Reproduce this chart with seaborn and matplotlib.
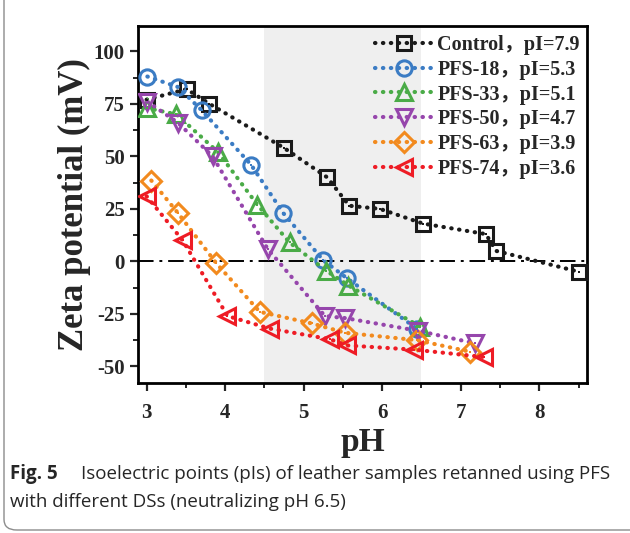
import matplotlib
matplotlib.use('Agg')
import matplotlib.pyplot as plt
from matplotlib.patches import FancyBboxPatch
from matplotlib.ticker import MultipleLocator
import pandas as pd
import seaborn as sns

# data
ctrl_ph = [3.0, 3.51, 3.80, 4.75, 5.30, 5.58, 5.97, 6.52, 7.32, 7.45, 8.51]
ctrl_zeta = [77, 82, 75, 54, 40, 26.5, 25, 18, 13, 5, -5]
pfs18_ph = [3.01, 3.40, 3.70, 4.33, 4.74, 5.25, 5.55, 6.44]
pfs18_zeta = [88, 83, 72, 46, 23, 0.5, -8, -32]
pfs33_ph = [3.0, 3.38, 3.91, 4.41, 4.82, 5.29, 5.57, 6.48]
pfs33_zeta = [73, 70, 52, 27, 9, -4.5, -11.5, -31]
pfs50_ph = [3.01, 3.40, 3.84, 4.54, 5.27, 5.53, 6.45, 7.18]
pfs50_zeta = [76, 66, 50, 6, -26, -27, -33, -39]
pfs63_ph = [3.06, 3.40, 3.89, 4.44, 5.10, 5.53, 6.44, 7.12]
pfs63_zeta = [38.5, 23, -1, -24, -29.5, -34, -37.5, -43]
pfs74_ph = [3.0, 3.46, 4.03, 4.57, 5.33, 5.55, 6.40, 7.29]
pfs74_zeta = [31, 10, -26, -32, -37, -40, -42, -45.5]

labels = ['Control，pI=7.9', 'PFS-18，pI=5.3', 'PFS-33，pI=5.1',
          'PFS-50，pI=4.7', 'PFS-63，pI=3.9', 'PFS-74，pI=3.6']
colors = ['#1a1a1a', '#3b7cc4', '#4aab47', '#9646ac', '#f28a1e', '#ee1c25']
markers = ['s', 'o', '^', 'v', 'D', '<']
msizes = [10, 11, 12, 12, 10, 12]

series = [(ctrl_ph, ctrl_zeta), (pfs18_ph, pfs18_zeta), (pfs33_ph, pfs33_zeta),
          (pfs50_ph, pfs50_zeta), (pfs63_ph, pfs63_zeta), (pfs74_ph, pfs74_zeta)]

sns.set_style('ticks')
serif = ['Liberation Serif', 'Noto Sans CJK SC']
plt.rcParams['font.family'] = serif
plt.rcParams['axes.unicode_minus'] = False

fig = plt.figure(figsize=(6.3, 5.33), dpi=100)
ax = fig.add_axes([0.219, 0.281, 0.713, 0.670])

# shaded pH window
ax.axvspan(4.5, 6.5, color='#efefef', zorder=0, lw=0)
ax.axhline(0, color='black', lw=1.4, ls=(0, (8, 3, 1.5, 3)), zorder=1)

for (x, y), lab, c, m, ms in zip(series, labels, colors, markers, msizes):
    df = pd.DataFrame({'pH': x, 'zeta': y})
    sns.lineplot(data=df, x='pH', y='zeta', ax=ax, color=c, label=lab,
                 marker=m, markersize=ms, mfc='none', mec=c, mew=2.2,
                 lw=3, ls=(0, (0.1, 1.8)), dash_capstyle='round',
                 sort=False, zorder=3)
    sns.scatterplot(data=df, x='pH', y='zeta', ax=ax, color=c, marker='s',
                    s=4, lw=0, zorder=4)

ax.set_xlim(2.89, 8.61)
ax.set_ylim(-58, 112)
ax.xaxis.set_major_locator(MultipleLocator(1))
ax.xaxis.set_minor_locator(MultipleLocator(0.5))
ax.yaxis.set_major_locator(MultipleLocator(25))
ax.yaxis.set_minor_locator(MultipleLocator(12.5))
ax.tick_params(which='major', direction='out', length=6, width=1.6,
               labelsize=15)
ax.tick_params(axis='x', which='major', pad=8)
ax.tick_params(which='minor', direction='out', length=3.5, width=1.4)
for lbl in ax.get_xticklabels() + ax.get_yticklabels():
    lbl.set_fontweight('bold')
for sp in ax.spines.values():
    sp.set_linewidth(2.0)
    sp.set_color('black')

ax.set_xlabel('pH', fontsize=24, fontweight='bold', labelpad=3)
ax.set_ylabel('Zeta potential (mV)', fontsize=25, fontweight='bold',
              labelpad=2)

leg = ax.legend(loc='upper right', bbox_to_anchor=(1.015, 1.015), frameon=False,
                handlelength=2.9, handletextpad=0.2, labelspacing=0.24,
                prop={'family': serif, 'weight': 'bold', 'size': 14.5},
                borderaxespad=0.3)

# caption box
fig.patches.append(FancyBboxPatch((4 / 630, 3 / 533), 650 / 630, 560 / 533,
                                  boxstyle='round,pad=0,rounding_size=0.02',
                                  transform=fig.transFigure, fill=False,
                                  ec='#8c8c8c', lw=1.0))
fig.text(10 / 630, 1 - 474 / 533, 'Fig. 5', fontsize=13.5, fontweight='bold',
         family='Open Sans', va='center')
fig.text(81 / 630, 1 - 474 / 533,
         'Isoelectric points (pIs) of leather samples retanned using PFS',
         fontsize=13.5, family='Open Sans', va='center')
fig.text(10 / 630, 1 - 502 / 533, 'with different DSs (neutralizing pH 6.5)',
         fontsize=13.5, family='Open Sans', va='center')

fig.savefig('out.png', dpi=100)
